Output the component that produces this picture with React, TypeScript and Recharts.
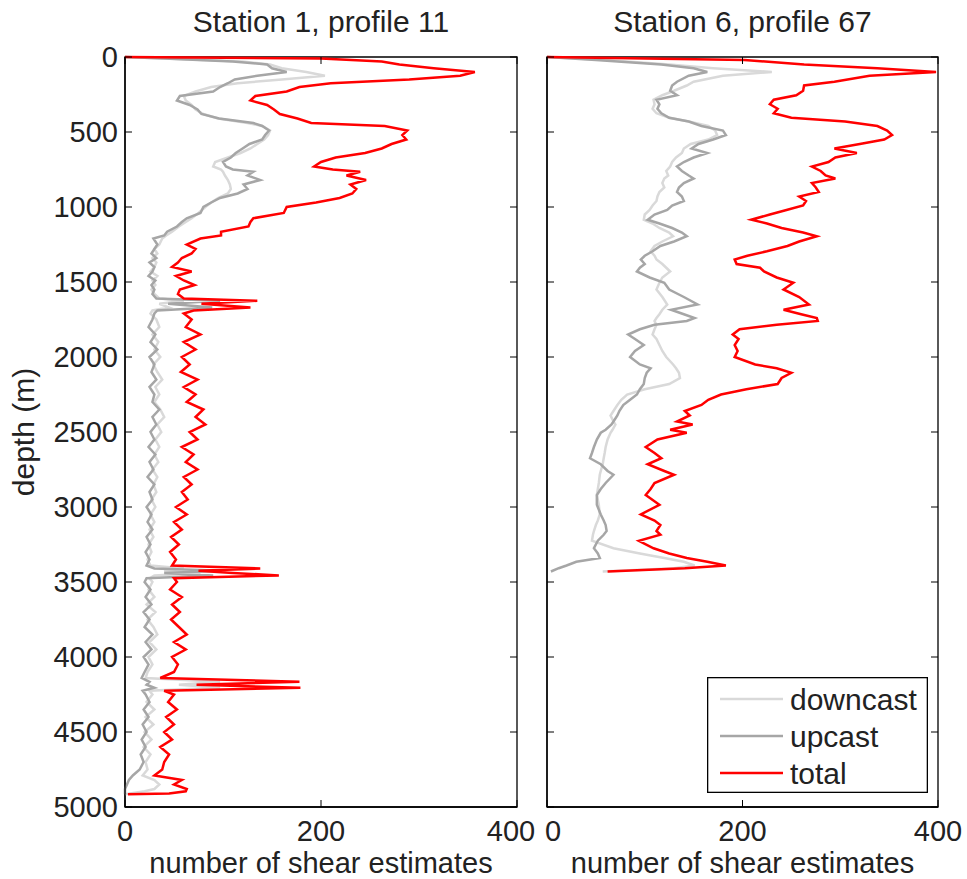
import React from 'react';
import { LineChart, Line, XAxis, YAxis, Legend, ReferenceArea } from 'recharts';

const FONT = '"Liberation Sans", Arial, Helvetica, sans-serif';
const TEXT = '#222222';
const FS = 30;
const FS_TICK = 29;

const depthTicks = [0, 500, 1000, 1500, 2000, 2500, 3000, 3500, 4000, 4500, 5000];
const countTicks = [0, 200, 400];

const titles = ['Station 1, profile 11', 'Station 6, profile 67'];
const xLabel = 'number of shear estimates';
const yLabel = 'depth (m)';

// Station 1, profile 11
const depth1 = [
  0, 10, 30, 50, 75, 100, 125, 150, 175, 200, 230, 260, 290, 320, 350, 380, 410, 440, 460, 490,
  520, 550, 580, 610, 640, 670, 700, 730, 750, 765, 790, 820, 850, 880, 910, 940, 970, 1000, 1040, 1075,
  1100, 1130, 1165, 1190, 1210, 1250, 1280, 1310, 1340, 1370, 1400, 1430, 1460, 1490, 1520, 1550, 1580, 1610, 1625, 1645,
  1670, 1690, 1710,
  1750, 1800, 1850, 1900, 1950, 2000, 2050, 2100, 2150, 2200, 2250, 2300, 2350, 2400, 2450, 2500, 2550, 2600, 2650, 2700,
  2750, 2800, 2850, 2900, 2950, 3000, 3050, 3100, 3150, 3200, 3250, 3300, 3350, 3390,
  3410, 3425, 3440, 3456, 3475,
  3500, 3550, 3600, 3650, 3700, 3750, 3800, 3850, 3900, 3950, 4000, 4050, 4100, 4140,
  4165, 4185, 4205, 4225,
  4250, 4300, 4350, 4400, 4450, 4500, 4550, 4600, 4650, 4700, 4750, 4790, 4820, 4850, 4880, 4895, 4910, 4915,
];
const downcast1 = [
  0, 40, 120, 148, 160, 185, 204, 160, 115, 88, 72, 60, 62, 68, 72, 80, 95, 125, 140, 148,
  146, 142, 135, 128, 118, 105, 92, 90, 98, 100, 102, 105, 107, 108, 105, 95, 88, 82, 75, 68,
  62, 55, 48, 42, 38, 35, 30, 33, 28, 32, 30, 26, 33, 28, 31, 27, 30, 35, 60, 35,
  45, 28, 26,
  32, 35, 28, 34, 30, 36, 29, 33, 38, 31, 35, 30, 36, 40, 33, 37, 31, 35, 30, 34,
  28, 33, 29, 32, 27, 31, 26, 30, 25, 29, 24, 27, 23, 26,
  60, 40, 77, 30, 25,
  28, 24, 30, 22, 31, 23, 29, 33, 25, 32, 24, 28, 23, 21,
  97, 55, 97, 25,
  28, 22, 30, 21, 29, 20, 27, 19, 26, 21, 23, 18, 30, 35, 30, 20, 5, 0,
];
const upcast1 = [
  0, 40, 110, 145, 150, 165, 135, 112, 105, 97, 90, 56, 53, 66, 74, 78, 96, 131, 140, 147,
  143, 140, 127, 120, 113, 108, 100, 103, 110, 131, 125, 138, 121, 125, 115, 97, 88, 80, 77, 63,
  58, 53, 43, 40, 29, 33, 30, 27, 32, 25, 30, 28, 24, 31, 27, 30, 28, 32, 97, 44,
  89, 33, 30,
  28, 24, 31, 26, 33, 25, 30, 27, 32, 25, 30, 28, 35, 28, 32, 26, 30, 24, 31, 25,
  29, 23, 30, 25, 28, 22, 27, 23, 28, 22, 26, 21, 25, 22,
  30, 99, 40, 90, 22,
  20, 26, 21, 27, 19, 25, 20, 28, 21, 27, 19, 24, 20, 17,
  25, 22, 30, 18,
  21, 25, 19, 24, 18, 22, 17, 21, 16, 19, 15, 8, 4, 2, 0, 0, 0, 0,
];
const total1 = [
  0, 200, 262, 280, 315, 357, 342, 290, 210, 178, 165, 133, 128, 145, 152, 158, 176, 190, 265, 288,
  283, 287, 272, 262, 245, 215, 200, 193, 212, 240, 226, 246, 230, 236, 232, 219, 195, 165, 162, 131,
  128, 126, 98, 98, 77, 63, 72, 68, 58, 54, 48, 68, 52, 60, 71, 56, 54, 60, 135, 78,
  128, 70, 60,
  68, 62, 77, 60, 72, 58, 66, 57, 74, 60, 72, 63, 80, 72, 82, 66, 74, 58, 70, 62,
  74, 60, 68, 58, 64, 52, 63, 50, 58, 47, 55, 46, 52, 48,
  138, 75, 110, 157, 50,
  53, 46, 58, 48, 56, 47, 55, 63, 50, 62, 48, 54, 50, 36,
  178, 73, 179, 40,
  50, 44, 53, 42, 50, 40, 48, 36, 45, 40, 38, 30, 58, 50, 63, 62, 45, 3,
];

// Station 6, profile 67
const depth2 = [
  0, 20, 50, 75, 100, 125, 165, 190, 225, 255, 285, 315, 345, 375, 405, 430, 460, 490, 520, 550,
  580, 610, 640, 670, 700, 730, 760, 790, 810, 840, 870, 900, 930, 960, 990, 1020, 1050, 1085, 1110, 1140,
  1170, 1195, 1230, 1260, 1295, 1325, 1350, 1380, 1405, 1430, 1470, 1505, 1550, 1600, 1650, 1685, 1715, 1740, 1760, 1785,
  1815, 1850, 1880, 1920, 1960, 2000, 2050, 2075, 2105, 2140, 2180, 2215, 2250, 2285, 2320, 2360, 2390, 2430, 2450, 2485,
  2505, 2550, 2600, 2640, 2675, 2715, 2760, 2785, 2840, 2880, 2920, 2985, 3050, 3090, 3120, 3160, 3185, 3225, 3275, 3310,
  3340, 3365, 3390, 3408, 3430,
];
const downcast2 = [
  0, 60, 125, 170, 230, 180, 150, 143, 130, 118, 109, 110, 108, 112, 125, 145, 165, 172, 174, 165,
  147, 140, 138, 132, 128, 126, 122, 124, 120, 118, 120, 115, 113, 112, 108, 105, 100, 99, 108, 115,
  125, 129, 118, 110, 106, 110, 112, 118, 122, 126, 118, 115, 112, 118, 123, 118, 115, 112, 110, 112,
  110, 108, 112, 115, 118, 122, 129, 132, 135, 136, 125, 100, 82, 76, 72, 68, 65, 68, 70, 67,
  65, 62, 60, 59, 58, 57, 55, 54, 53, 52, 51, 53, 54, 52, 50, 48, 47, 46, 68, 95,
  120, 140, 151, 130, 57,
];
const upcast2 = [
  0, 50, 117, 150, 164, 145, 133, 128, 126, 133, 112, 115, 113, 117, 125, 145, 158, 180, 183, 170,
  155, 148, 164, 150, 140, 133, 138, 145, 150, 140, 135, 133, 138, 140, 128, 123, 110, 103, 115, 128,
  138, 143, 130, 116, 108, 100, 96, 100, 95, 92, 105, 120, 125, 140, 154, 127, 140, 151, 143, 110,
  95, 83, 90, 99, 90, 85, 95, 106, 102, 100, 99, 95, 92, 85, 78, 74, 72, 68, 66, 60,
  55, 51, 48, 46, 44, 55, 62, 68, 60, 55, 51, 51, 55, 58, 60, 61, 58, 52, 48, 52,
  54, 30, 20, 12, 4,
];
const total2 = [
  0, 202, 263, 338, 398, 330, 294, 263, 262, 255, 232, 228, 236, 232, 250, 305, 338, 348, 353, 345,
  320, 294, 317, 295, 288, 271, 280, 285, 295, 271, 275, 278, 258, 265, 262, 245, 228, 209, 225, 240,
  262, 276, 258, 246, 225, 205, 192, 194, 218, 222, 235, 252, 242, 258, 268, 242, 260, 276, 277, 235,
  197, 190, 196, 192, 195, 192, 213, 235, 250, 240, 236, 204, 178, 165, 158, 141, 146, 133, 149, 126,
  143, 113, 101, 110, 117, 103, 120, 130, 110, 106, 101, 115, 96, 110, 116, 112, 116, 94, 109, 125,
  143, 164, 183, 141, 62,
];

const series = [
  { key: 'down', name: 'downcast', color: '#d9d9d9' },
  { key: 'up', name: 'upcast', color: '#a6a6a6' },
  { key: 'total', name: 'total', color: '#ff0000' },
];

const buildRows = (d: number[], a: number[], b: number[], c: number[]) =>
  d.map((depth, i) => ({ depth, down: a[i], up: b[i], total: c[i] }));

const data1 = buildRows(depth1, downcast1, upcast1, total1);
const data2 = buildRows(depth2, downcast2, upcast2, total2);

const H = 879;
const PLOT_TOP = 57;
const PLOT_BOTTOM = 807;
const TICK_LEN = 7;

const textStyle = { fontFamily: FONT, fontSize: FS, fill: TEXT } as const;
const tickStyle = { fontFamily: FONT, fontSize: FS_TICK, fill: TEXT } as const;

const LegendBox = (props: any) => {
  const payload: any[] = props.payload || [];
  const ordered = series.map((s) => payload.find((p) => p.value === s.name) || { value: s.name, color: s.color });
  return (
    <svg width={221} height={116} style={{ display: 'block' }}>
      <rect x={0.65} y={0.65} width={219.7} height={114.7} fill="#fff" stroke="#000" strokeWidth={1.3} />
      {ordered.map((p: any, i: number) => {
        const cy = 22 + i * 37;
        return (
          <g key={i}>
            <line x1={13} x2={76} y1={cy} y2={cy} stroke={p.color} strokeWidth={2.5} />
            <text x={83} y={cy + 10.5} {...textStyle}>
              {p.value}
            </text>
          </g>
        );
      })}
    </svg>
  );
};

type PanelProps = {
  title: string;
  data: any[];
  left: number;
  width: number;
  plotLeft: number;
  plotRight: number;
  showYLabels: boolean;
  showLegend: boolean;
  xLabelShift: Record<number, number>;
};

function Panel({ title, data, left, width, plotLeft, plotRight, showYLabels, showLegend, xLabelShift }: PanelProps) {
  const cx = (plotLeft + plotRight) / 2;
  const axisLine = { stroke: '#000', strokeWidth: 1.3 };

  const XTick = (p: any) => (
    <g>
      <line x1={p.x} x2={p.x} y1={PLOT_BOTTOM} y2={PLOT_BOTTOM - TICK_LEN} stroke="#000" strokeWidth={1} />
      <line x1={p.x} x2={p.x} y1={PLOT_TOP} y2={PLOT_TOP + TICK_LEN} stroke="#000" strokeWidth={1} />
      <text x={p.x + (xLabelShift[p.payload.value] || 0)} y={840.5} textAnchor="middle" {...tickStyle}>
        {p.payload.value}
      </text>
    </g>
  );

  const YTick = (p: any) => (
    <g>
      <line x1={plotLeft} x2={plotLeft + TICK_LEN} y1={p.y} y2={p.y} stroke="#000" strokeWidth={1} />
      <line x1={plotRight} x2={plotRight - TICK_LEN} y1={p.y} y2={p.y} stroke="#000" strokeWidth={1} />
      {showYLabels && (
        <text x={plotLeft - 7} y={p.y + 10.4} textAnchor="end" {...tickStyle}>
          {p.payload.value}
        </text>
      )}
    </g>
  );

  return (
    <div style={{ position: 'absolute', left, top: 0 }}>
      <LineChart
        layout="vertical"
        width={width}
        height={H}
        data={data}
        margin={{ top: PLOT_TOP, right: width - plotRight, bottom: 0, left: 0 }}
      >
        <XAxis
          type="number"
          domain={[0, 400]}
          ticks={countTicks}
          interval={0}
          height={H - PLOT_BOTTOM}
          tickLine={false}
          axisLine={axisLine}
          tick={XTick}
          label={() => (
            <g>
              <text x={cx} y={873} textAnchor="middle" fontFamily={FONT} fontSize={29} fill={TEXT}>
                {xLabel}
              </text>
              <text x={cx} y={32} textAnchor="middle" {...textStyle}>
                {title}
              </text>
            </g>
          )}
        />
        <YAxis
          type="number"
          dataKey="depth"
          domain={[0, 5000]}
          ticks={depthTicks}
          interval={0}
          width={plotLeft}
          tickLine={false}
          axisLine={axisLine}
          tick={YTick}
          label={
            showYLabels
              ? () => (
                  <text transform={`translate(34, ${(PLOT_TOP + PLOT_BOTTOM) / 2}) rotate(-90)`} textAnchor="middle" {...textStyle}>
                    {yLabel}
                  </text>
                )
              : undefined
          }
        />
        <ReferenceArea x1={0} x2={400} y1={0} y2={5000} fill="none" fillOpacity={0} stroke="#000" strokeWidth={1.3} ifOverflow="visible" />
        {series.map((s) => (
          <Line
            key={s.key}
            dataKey={s.key}
            name={s.name}
            stroke={s.color}
            strokeWidth={2.5}
            dot={false}
            activeDot={false}
            isAnimationActive={false}
          />
        ))}
        {showLegend && (
          <Legend
            layout="horizontal"
            align="center"
            verticalAlign="middle"
            wrapperStyle={{ left: 177, top: 677, width: 221, height: 116 }}
            content={LegendBox}
          />
        )}
      </LineChart>
    </div>
  );
}

export default function App() {
  return (
    <div style={{ position: 'absolute', left: 0, top: 0, width: 967, height: H, background: '#fff' }}>
      <Panel
        title={titles[0]}
        data={data1}
        left={0}
        width={545}
        plotLeft={125}
        plotRight={517}
        showYLabels
        showLegend={false}
        xLabelShift={{ 400: -6 }}
      />
      <Panel
        title={titles[1]}
        data={data2}
        left={530}
        width={437}
        plotLeft={17}
        plotRight={408}
        showYLabels={false}
        showLegend
        xLabelShift={{ 0: 6 }}
      />
    </div>
  );
}
